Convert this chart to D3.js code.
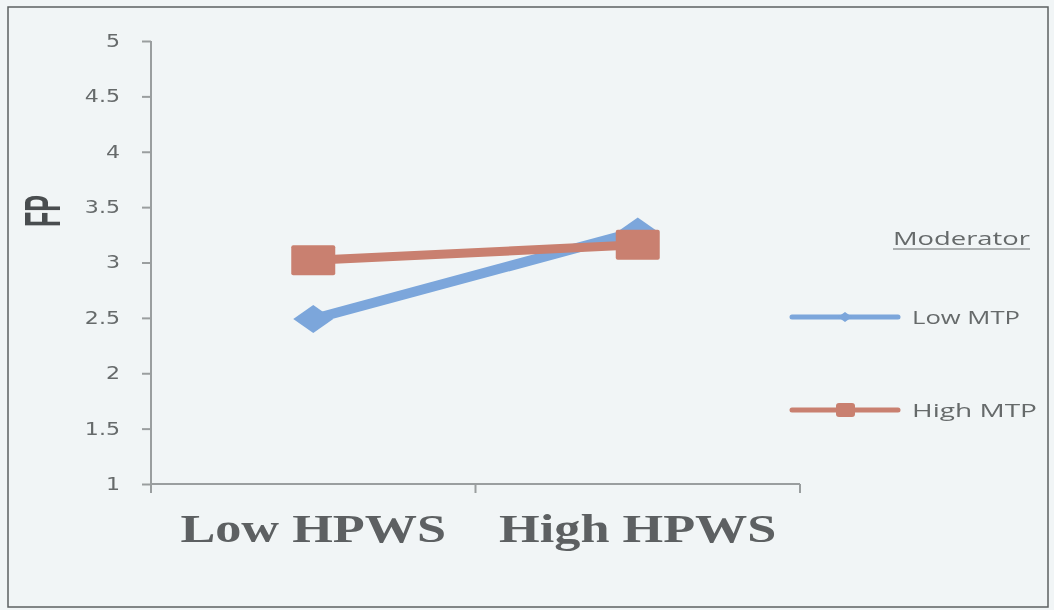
<!DOCTYPE html>
<html>
<head>
<meta charset="utf-8">
<script src="https://cdn.jsdelivr.net/npm/d3@7"></script>
<style>
  html, body { margin: 0; padding: 0; background: #f1f5f6; }
  svg { display: block; }
</style>
</head>
<body>
<svg id="chart" width="1054" height="610"></svg>
<script>
// Interaction plot: FP by HPWS level for two moderator groups
const categories = ["Low HPWS", "High HPWS"];
const seriesNames = ["Low MTP", "High MTP"];
const lowMTP = [2.49, 3.28];
const highMTP = [3.02, 3.16];
const yTicks = [1, 1.5, 2, 2.5, 3, 3.5, 4, 4.5, 5];
const legendTitle = "Moderator";
const yTitle = "FP";

const blue = "#7ba6db";
const red = "#c9806f";
const axisGrey = "#9a9e9f";
const textGrey = "#666a6b";

const svg = d3.select("#chart");

const defs = svg.append("defs");
defs.append("filter").attr("id", "soft")
  .append("feGaussianBlur").attr("stdDeviation", 0.6);

const root = svg.append("g").attr("filter", "url(#soft)");

root.append("rect")
  .attr("x", 0).attr("y", 0).attr("width", 1054).attr("height", 610)
  .attr("fill", "#f1f5f6");

// outer frame
root.append("rect")
  .attr("x", 8).attr("y", 7).attr("width", 1040).attr("height", 600)
  .attr("fill", "none").attr("stroke", "#5c6061").attr("stroke-width", 1.5);

const plot = { left: 151, right: 800, top: 41, bottom: 484 };

const x = d3.scalePoint().domain(categories)
  .range([plot.left, plot.right]).padding(0.5);
const y = d3.scaleLinear().domain([1, 5]).range([plot.bottom, plot.top]);

// widen text horizontally to follow the stretched chart
function stretch(sel, k) {
  sel.each(function () {
    const w = this.getComputedTextLength();
    d3.select(this).attr("textLength", w * k).attr("lengthAdjust", "spacingAndGlyphs");
  });
}

// y axis
const yAxis = root.append("g")
  .attr("transform", `translate(${plot.left},0)`)
  .call(d3.axisLeft(y).tickValues(yTicks).tickSize(9).tickPadding(22)
    .tickFormat(d => String(d)));
yAxis.select(".domain").attr("stroke", axisGrey).attr("stroke-width", 2)
  .attr("d", `M0,${plot.top}H-0V${plot.bottom + 9}`);
yAxis.selectAll(".tick line").attr("stroke", axisGrey).attr("stroke-width", 2);
yAxis.selectAll(".tick text")
  .attr("fill", textGrey)
  .attr("font-family", "DejaVu Sans, Verdana, sans-serif")
  .attr("font-size", 17)
  .call(stretch, 1.3);

// x axis: category boundaries carry the ticks
const xAxisG = root.append("g");
xAxisG.append("line")
  .attr("x1", plot.left).attr("x2", plot.right)
  .attr("y1", plot.bottom).attr("y2", plot.bottom)
  .attr("stroke", axisGrey).attr("stroke-width", 2);
const step = x.step();
const bounds = [x(categories[0]) - step / 2, x(categories[0]) + step / 2, x(categories[1]) + step / 2];
xAxisG.selectAll("line.tk").data(bounds).join("line")
  .attr("class", "tk")
  .attr("x1", d => d).attr("x2", d => d)
  .attr("y1", plot.bottom).attr("y2", plot.bottom + 9)
  .attr("stroke", axisGrey).attr("stroke-width", 2);
xAxisG.selectAll("text").data(categories).join("text")
  .attr("x", d => x(d)).attr("y", 542)
  .attr("text-anchor", "middle")
  .attr("fill", "#5d6162")
  .attr("font-family", "Liberation Serif, Times New Roman, serif")
  .attr("font-weight", "bold")
  .attr("font-size", 39)
  .text(d => d)
  .call(stretch, 1.34);

// y title
root.append("text")
  .attr("transform", "translate(42,211) scale(2,1) rotate(-90)")
  .attr("text-anchor", "middle")
  .attr("dy", "0.35em")
  .attr("fill", "#4a4e4f")
  .attr("font-family", "Liberation Sans, Arial, sans-serif")
  .attr("font-weight", "bold")
  .attr("font-size", 25)
  .text(yTitle);

// series
const line = d3.line().x((d, i) => x(categories[i])).y(d => y(d));
const diamond = (cx, cy, w, h) => `M${cx - w / 2},${cy}L${cx},${cy - h / 2}L${cx + w / 2},${cy}L${cx},${cy + h / 2}Z`;

root.append("path").datum(lowMTP)
  .attr("d", line).attr("fill", "none")
  .attr("stroke", blue).attr("stroke-width", 10);
root.selectAll("path.lowpt").data(lowMTP).join("path")
  .attr("class", "lowpt")
  .attr("d", (d, i) => diamond(x(categories[i]), y(d), 40, 28))
  .attr("fill", blue);

root.append("path").datum(highMTP)
  .attr("d", line).attr("fill", "none")
  .attr("stroke", red).attr("stroke-width", 9);
root.selectAll("rect.highpt").data(highMTP).join("rect")
  .attr("class", "highpt")
  .attr("x", (d, i) => x(categories[i]) - 22)
  .attr("y", d => y(d) - 15)
  .attr("width", 44).attr("height", 30)
  .attr("rx", 2)
  .attr("fill", red);

// legend
const lg = root.append("g");
lg.append("text")
  .attr("x", 893).attr("y", 245)
  .attr("fill", textGrey)
  .attr("font-family", "Open Sans, sans-serif")
  .attr("font-size", 18)
  .attr("textLength", 137).attr("lengthAdjust", "spacingAndGlyphs")
  .text(legendTitle);
lg.append("line")
  .attr("x1", 893).attr("x2", 1030).attr("y1", 249).attr("y2", 249)
  .attr("stroke", textGrey).attr("stroke-width", 1.2);

const legendRows = [
  { name: seriesNames[0], color: blue, y: 317, marker: "diamond", width: 108 },
  { name: seriesNames[1], color: red, y: 410, marker: "square", width: 125 }
];
legendRows.forEach(r => {
  lg.append("line")
    .attr("x1", 792).attr("x2", 898).attr("y1", r.y).attr("y2", r.y)
    .attr("stroke", r.color).attr("stroke-width", 5).attr("stroke-linecap", "round");
  if (r.marker === "diamond") {
    lg.append("path").attr("d", diamond(845, r.y, 14, 10)).attr("fill", r.color);
  } else {
    lg.append("rect").attr("x", 836).attr("y", r.y - 7).attr("width", 19).attr("height", 14)
      .attr("rx", 3).attr("fill", r.color);
  }
  lg.append("text")
    .attr("x", 912).attr("y", r.y + 7)
    .attr("fill", textGrey)
    .attr("font-family", "Open Sans, sans-serif")
    .attr("font-size", 18)
    .attr("textLength", r.width).attr("lengthAdjust", "spacingAndGlyphs")
    .text(r.name);
});
</script>
</body>
</html>
